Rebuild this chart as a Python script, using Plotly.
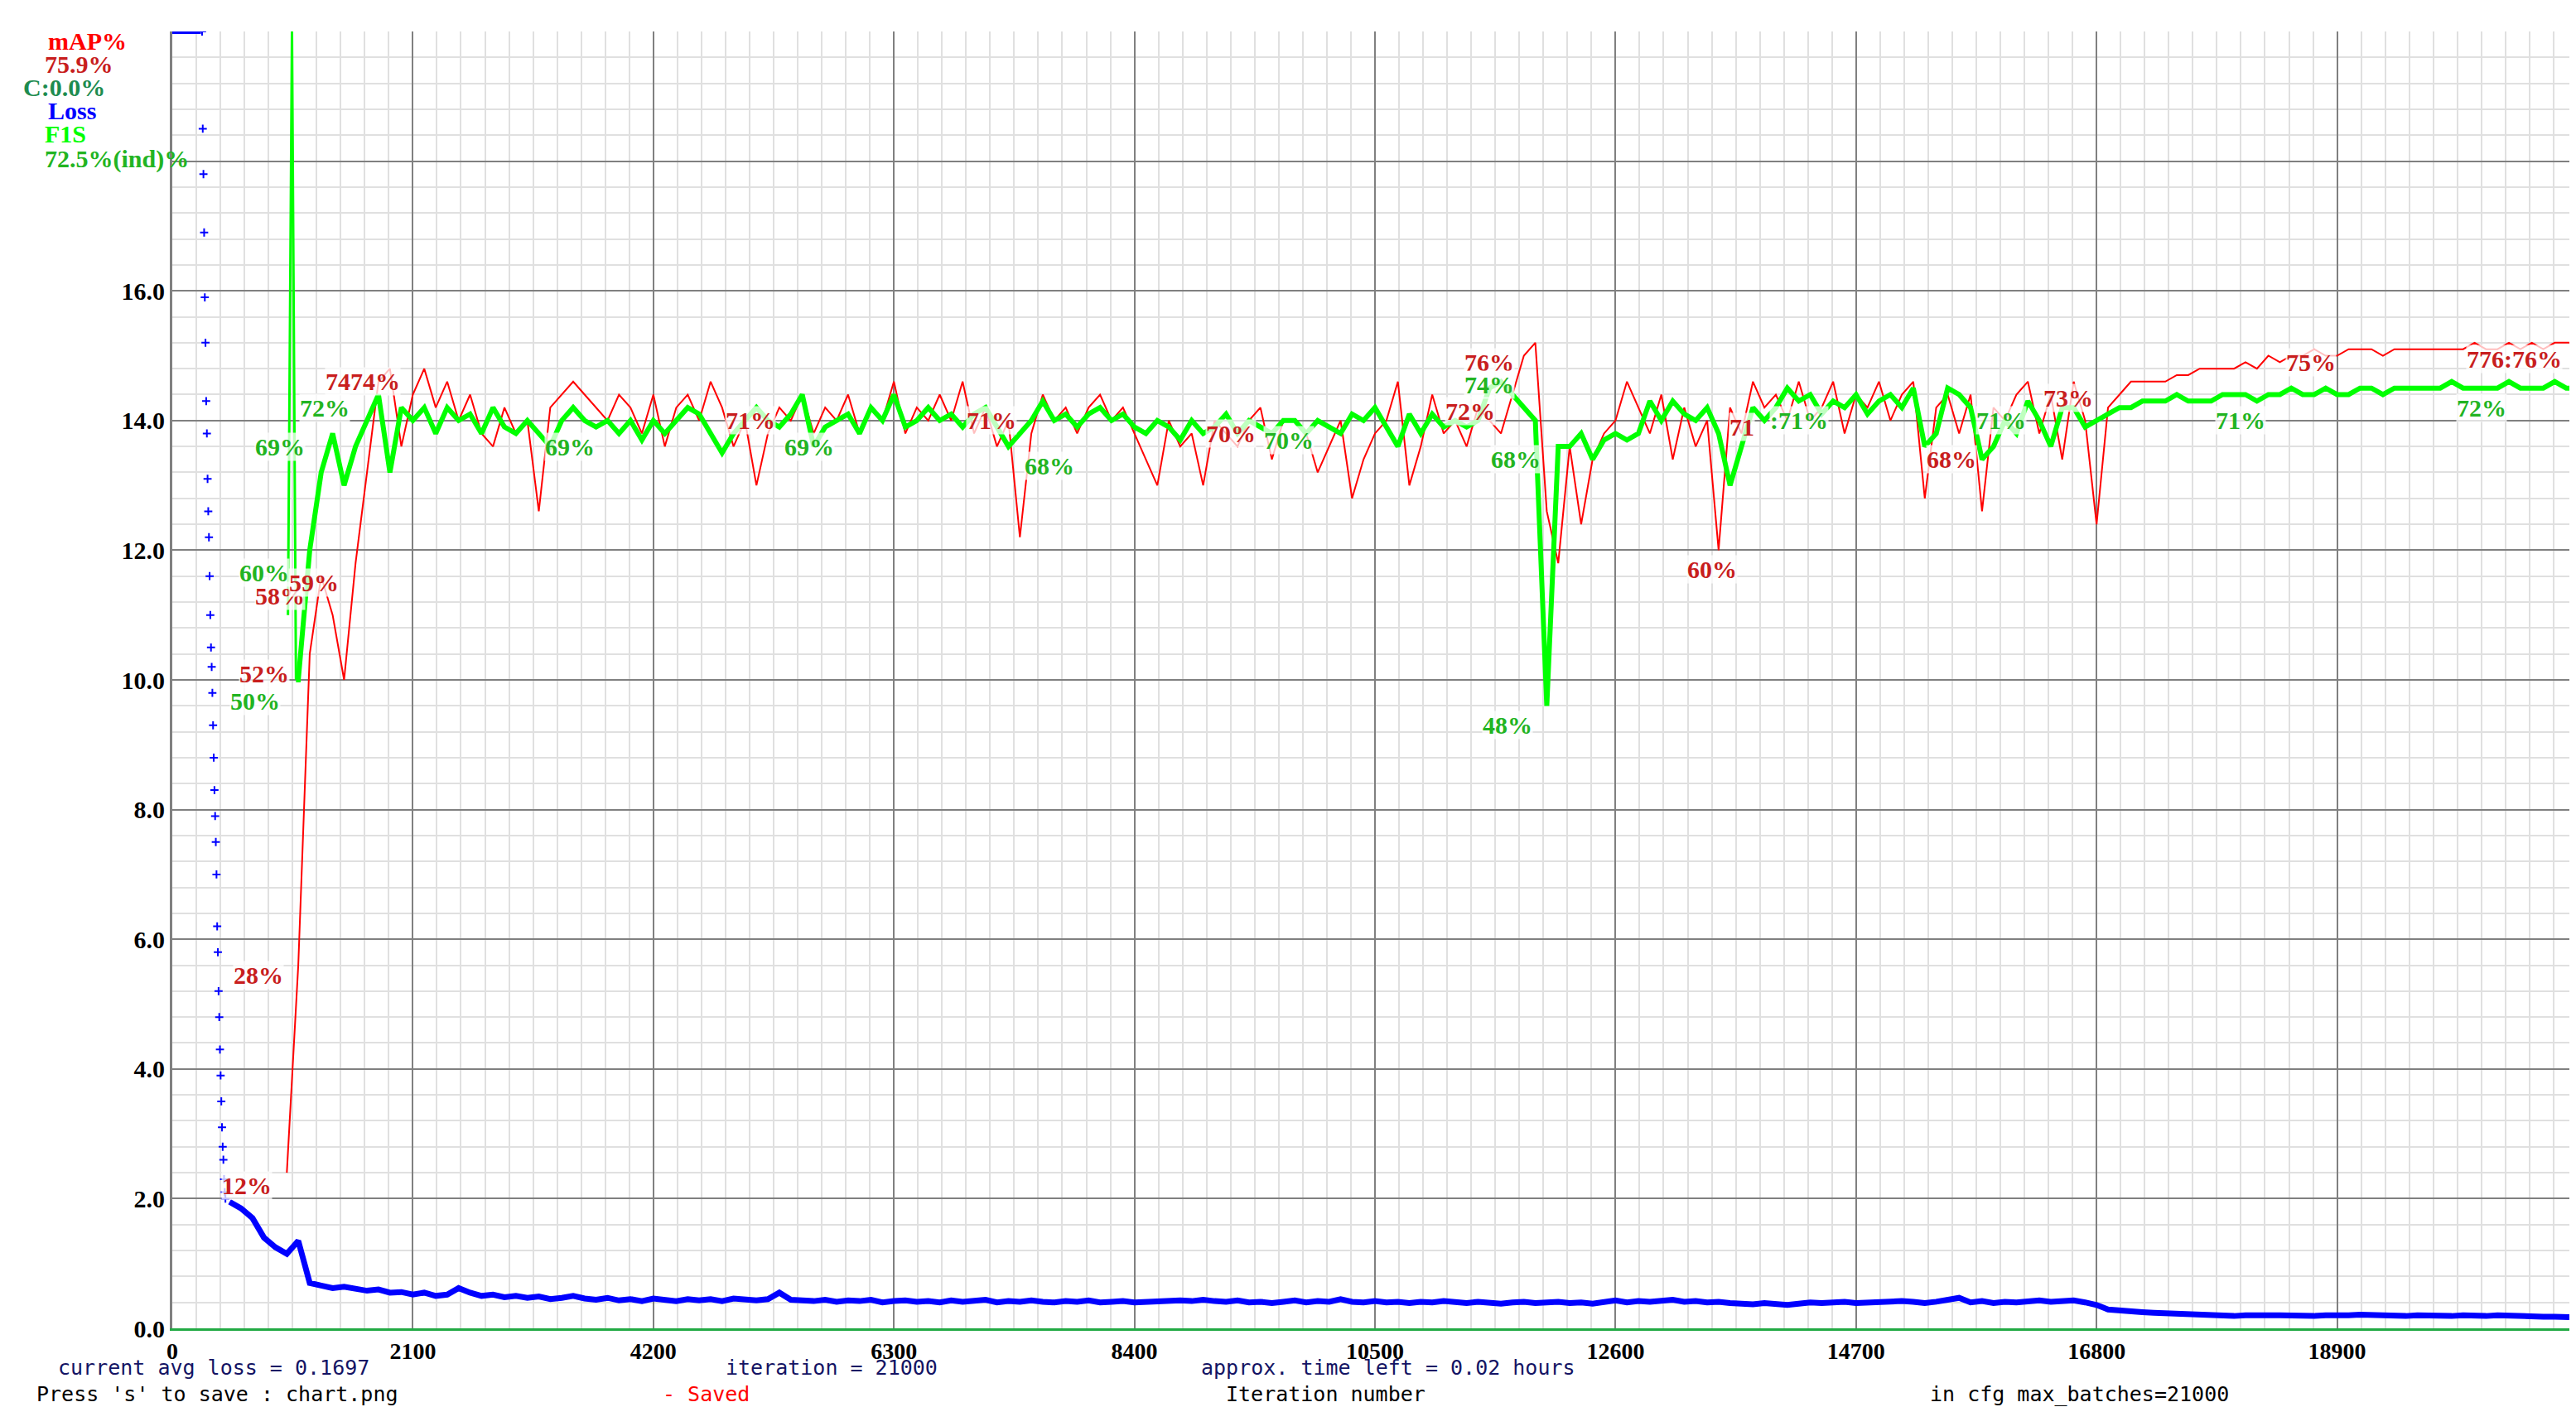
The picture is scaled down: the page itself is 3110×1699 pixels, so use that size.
import plotly.graph_objects as go

# ---------------- data ----------------
x_ticks = [0, 2100, 4200, 6300, 8400, 10500, 12600, 14700, 16800, 18900, 21000]
x_tick_text = ["0", "2100", "4200", "6300", "8400", "10500", "12600", "14700", "16800", "18900", "21000"]
y_ticks = [0, 2, 4, 6, 8, 10, 12, 14, 16]
y_tick_text = ["0.0", "2.0", "4.0", "6.0", "8.0", "10.0", "12.0", "14.0", "16.0"]

# loss: clipped top segment, early fast drop (dots), then main curve
loss_top_iters = [0, 100, 200, 250]
loss_top_vals = [20, 20, 20, 20]
loss_early_iters = list(range(260, 470, 6))
loss_early_vals = [20, 18.5, 17.8, 16.9, 15.9, 15.2, 14.3, 13.8, 13.1, 12.6, 12.2, 11.6, 11.0,
                   10.5, 10.2, 9.8, 9.3, 8.8, 8.3, 7.9, 7.5, 7.0, 6.2, 5.8, 5.2, 4.8, 4.3, 3.9,
                   3.5, 3.1, 2.8, 2.6, 2.3, 2.1, 2.0]
loss_iters = list(range(500, 21100, 100))
loss_vals = [
    1.95,
    1.85, 1.7, 1.4, 1.25, 1.15, 1.35, 0.7, 0.66, 0.62, 0.64,
    0.6, 0.58, 0.6, 0.55, 0.56, 0.52, 0.55, 0.5, 0.52, 0.62,
    0.55, 0.5, 0.52, 0.48, 0.5, 0.47, 0.49, 0.45, 0.47, 0.5,
    0.46, 0.44, 0.47, 0.43, 0.45, 0.42, 0.46, 0.44, 0.42, 0.45,
    0.43, 0.45, 0.42, 0.46, 0.44, 0.43, 0.45, 0.55, 0.44, 0.43,
    0.42, 0.44, 0.41, 0.43, 0.42, 0.44, 0.4, 0.42, 0.43, 0.41,
    0.42, 0.4, 0.43, 0.41, 0.42, 0.44, 0.4, 0.42, 0.41, 0.43,
    0.41, 0.4, 0.42, 0.41, 0.43, 0.4, 0.41, 0.42, 0.4, 0.41,
    0.42, 0.44, 0.43, 0.42, 0.44, 0.42, 0.41, 0.43, 0.4, 0.41,
    0.39, 0.41, 0.43, 0.4, 0.42, 0.41, 0.45, 0.41, 0.4, 0.42,
    0.4, 0.41, 0.39, 0.41, 0.4, 0.42, 0.4, 0.39, 0.41, 0.4,
    0.38, 0.4, 0.41, 0.39, 0.4, 0.41, 0.39, 0.4, 0.38, 0.41,
    0.43, 0.4, 0.42, 0.41, 0.43, 0.44, 0.41, 0.42, 0.4, 0.41,
    0.39, 0.38, 0.37, 0.39, 0.38, 0.36, 0.38, 0.4, 0.39, 0.4,
    0.41, 0.39, 0.4, 0.41, 0.4, 0.42, 0.41, 0.39, 0.41, 0.43,
    0.47, 0.4, 0.42, 0.39, 0.41, 0.4, 0.42, 0.43, 0.41, 0.42,
    0.43, 0.4, 0.36, 0.29, 0.27, 0.26, 0.25, 0.24, 0.23, 0.22,
    0.21, 0.2, 0.21, 0.2, 0.19, 0.2, 0.19, 0.2, 0.2, 0.19,
    0.2, 0.19, 0.2, 0.19, 0.2, 0.21, 0.2, 0.19, 0.2, 0.19,
    0.2, 0.19, 0.2, 0.19, 0.2, 0.19, 0.19, 0.2, 0.19, 0.18,
    0.19, 0.18, 0.18, 0.17, 0.17,
]

# mAP (%) every 100 iterations from 1000
map_iters = list(range(1000, 21100, 100))
map_pct = [
    12, 28, 52, 58, 55, 50, 59, 66, 73, 74,
    68, 72, 74, 71, 73, 70, 72, 69, 68, 71,
    69, 70, 63, 71, 72, 73, 72, 71, 70, 72,
    71, 69, 72, 68, 71, 72, 70, 73, 71, 68,
    70, 65, 69, 71, 70, 72, 69, 71, 70, 72,
    69, 71, 70, 73, 69, 71, 70, 72, 70, 73,
    69, 71, 68, 70, 61, 69, 72, 70, 71, 69,
    71, 72, 70, 71, 69, 67, 65, 70, 68, 69,
    65, 70, 69, 68, 70, 71, 67, 70, 70, 69,
    66, 68, 70, 64, 67, 69, 70, 73, 65, 68,
    72, 69, 70, 68, 71, 70, 69, 72, 75, 76,
    63, 59, 68, 62, 67, 69, 70, 73, 71, 69,
    72, 67, 71, 68, 70, 60, 71, 69, 73, 71,
    72, 70, 73, 70, 71, 73, 69, 72, 71, 73,
    70, 72, 73, 64, 71, 72, 69, 72, 63, 71,
    70, 72, 73, 69, 72, 67, 73, 70, 62, 71,
    72, 73, 73, 73, 73, 73.5, 73.5, 74, 74, 74,
    74, 74.5, 74, 75, 74.5, 75, 75, 75.5, 75, 75,
    75.5, 75.5, 75.5, 75, 75.5, 75.5, 75.5, 75.5, 75.5, 75.5,
    75.5, 76, 75.5, 75.5, 76, 75.5, 76, 75.5, 76, 76,
    76,
]

# F1 (%): first evaluation spike (thin) then the main curve
f1_spike_iters = [1010, 1045, 1080]
f1_spike_pct = [55, 100, 50]
f1_iters = [1080] + list(range(1100, 21100, 100))
f1_pct = [
    50,
    50, 60, 66, 69, 65, 68, 70, 72, 66,
    71, 70, 71, 69, 71, 70, 70.5, 69, 71, 69.5,
    69, 70, 69, 68, 70, 71, 70, 69.5, 70, 69,
    70, 68.5, 70, 69, 70, 71, 70.5, 69, 67.5, 69,
    70, 71, 70, 69.5, 70.5, 72, 68, 69.5, 70, 70.5,
    69, 71, 70, 72, 69.5, 70, 71, 70, 70.5, 69.5,
    70.5, 71, 69.5, 68, 69, 70, 71.5, 70, 70.5, 69.5,
    70.5, 71, 70, 70.5, 69.5, 69, 70, 69.5, 68.5, 70,
    69, 69.5, 70.5, 69, 70, 69.5, 69, 70, 70, 69,
    70, 69.5, 69, 70.5, 70, 71, 69.5, 68, 70.5, 69,
    70.5, 69.5, 70, 69.5, 70, 72.5, 73, 72, 71, 70,
    48, 68, 68, 69, 67, 68.5, 69, 68.5, 69, 71.5,
    70, 71.5, 70.5, 70, 71, 69, 65, 68, 71, 70,
    71, 72.5, 71.5, 72, 70.5, 71.5, 71, 72, 70.5, 71.5,
    72, 71, 72.5, 68, 69, 72.5, 72, 71, 67, 68,
    70, 69, 71.5, 70, 68, 71, 71, 69.5, 70, 70.5,
    71, 71, 71.5, 71.5, 71.5, 72, 71.5, 71.5, 71.5, 72,
    72, 72, 71.5, 72, 72, 72.5, 72, 72, 72.5, 72,
    72, 72.5, 72.5, 72, 72.5, 72.5, 72.5, 72.5, 72.5, 73,
    72.5, 72.5, 72.5, 72.5, 73, 72.5, 72.5, 72.5, 73, 72.5,
    72.5,
]

# value labels drawn on the chart (iteration, chart value, text)
map_label_iters = [650, 750, 800, 940, 1240, 1660, 5050, 7150, 9240, 11330, 11500, 13700, 13440, 15530, 16550, 18670, 20450]
map_label_vals = [2.2, 5.45, 10.1, 11.3, 11.5, 14.6, 14.0, 14.0, 13.8, 14.15, 14.9, 13.9, 11.7, 13.4, 14.35, 14.9, 14.95]
map_label_text = ["12%", "28%", "52%", "58%", "59%", "7474%", "71%", "71%", "70%", "72%", "76%", "71", "60%", "68%", "73%", "75%", "776:76%"]
f1_label_iters = [1330, 940, 800, 720, 3470, 5560, 7660, 9750, 11500, 11730, 11660, 14200, 15970, 18060, 20160]
f1_label_vals = [14.2, 13.6, 11.65, 9.67, 13.6, 13.6, 13.3, 13.7, 14.55, 13.4, 9.3, 14.0, 14.0, 14.0, 14.2]
f1_label_text = ["72%", "69%", "60%", "50%", "69%", "69%", "68%", "70%", "74%", "68%", "48%", ":71%", "71%", "71%", "72%"]

assert len(loss_iters) == len(loss_vals)
assert len(loss_early_iters) == len(loss_early_vals)
assert len(map_iters) == len(map_pct)
assert len(f1_iters) == len(f1_pct)

SCALE = 20 / 100.0  # percent -> chart units
W, H = 3110, 1699
ML, MR, MT, MB = 200, 6, 30, 103
FONT = "Liberation Serif"


def px(xp):
    return (xp - ML) / (W - ML - MR)


def py(yp):
    return (H - MB - yp) / (H - MT - MB)


fig = go.Figure()
fig.add_trace(go.Scatter(x=map_iters, y=[v * SCALE for v in map_pct], mode="lines",
                         line=dict(color="#ff0000", width=2), hoverinfo="skip"))
fig.add_trace(go.Scatter(x=f1_spike_iters, y=[v * SCALE for v in f1_spike_pct], mode="lines",
                         line=dict(color="#00ff00", width=3), hoverinfo="skip"))
fig.add_trace(go.Scatter(x=f1_iters, y=[v * SCALE for v in f1_pct], mode="lines",
                         line=dict(color="#00ff00", width=6), hoverinfo="skip"))
fig.add_trace(go.Scatter(x=loss_top_iters, y=loss_top_vals, mode="lines",
                         line=dict(color="#0000ff", width=6), hoverinfo="skip"))
fig.add_trace(go.Scatter(x=loss_early_iters, y=loss_early_vals, mode="markers",
                         marker=dict(color="#0000ff", size=7, symbol="cross-thin",
                                     line=dict(color="#0000ff", width=2)), hoverinfo="skip"))
fig.add_trace(go.Scatter(x=loss_iters, y=loss_vals, mode="lines",
                         line=dict(color="#0000ff", width=7), hoverinfo="skip"))

ann = []
for xi, yv, t in zip(map_label_iters, map_label_vals, map_label_text):
    ann.append(dict(x=xi, y=yv, text=t, showarrow=False, xref="x", yref="y",
                    font=dict(family=FONT, size=30, color="#c81e1e", weight="bold"),
                    bgcolor="rgba(255,255,255,0.75)", borderpad=0))
for xi, yv, t in zip(f1_label_iters, f1_label_vals, f1_label_text):
    ann.append(dict(x=xi, y=yv, text=t, showarrow=False, xref="x", yref="y",
                    font=dict(family=FONT, size=30, color="#22b422", weight="bold"),
                    bgcolor="rgba(255,255,255,0.75)", borderpad=0))

legend_rows = [("mAP%", "#ff0000", 42, 48), ("75.9%", "#c81e1e", 70, 44), ("C:0.0%", "#1e8c50", 98, 18),
               ("Loss", "#0000ff", 126, 48), ("F1S", "#00ff00", 154, 44), ("72.5%(ind)%", "#22b422", 184, 44)]
for t, c, ypx, xpx in legend_rows:
    ann.append(dict(x=px(xpx), y=py(ypx), xref="paper", yref="paper", xanchor="left", yanchor="middle",
                    text=t, showarrow=False, font=dict(family=FONT, size=30, color=c, weight="bold")))

MONO = "DejaVu Sans Mono"
bottom = [("current avg loss = 0.1697", "#141464", 60, 1643),
          ("iteration = 21000", "#141464", 866, 1643),
          ("approx. time left = 0.02 hours", "#141464", 1440, 1643),
          ("Press 's' to save : chart.png", "#000000", 34, 1676),
          ("- Saved", "#ff0000", 790, 1676),
          ("Iteration number", "#000000", 1470, 1676),
          ("in cfg max_batches=21000", "#000000", 2320, 1676)]
for t, c, xpx, ypx in bottom:
    ann.append(dict(x=px(xpx), y=py(ypx), xref="paper", yref="paper", xanchor="left", yanchor="middle",
                    text=t, showarrow=False, font=dict(family=MONO, size=25, color=c)))

fig.update_layout(
    width=W, height=H, autosize=False,
    margin=dict(l=ML, r=MR, t=MT, b=MB),
    plot_bgcolor="white", paper_bgcolor="white", showlegend=False,
    annotations=ann,
)
fig.update_xaxes(range=[0, 21000], tickvals=x_ticks, ticktext=x_tick_text,
                 showgrid=True, gridcolor="#808080", gridwidth=2,
                 minor=dict(dtick=210, showgrid=True, gridcolor="#e0e0e0", gridwidth=2),
                 showline=True, linecolor="#22aa44", linewidth=3, zeroline=False,
                 tickfont=dict(family=FONT, size=28, color="black", weight="bold"), ticks="")
fig.update_yaxes(range=[0, 20], tickvals=y_ticks + [18], ticktext=y_tick_text + [""],
                 showgrid=True, gridcolor="#808080", gridwidth=2,
                 minor=dict(dtick=0.4, showgrid=True, gridcolor="#e0e0e0", gridwidth=2),
                 showline=True, linecolor="#808080", linewidth=3, zeroline=False,
                 tickfont=dict(family=FONT, size=30, color="black", weight="bold"), ticks="")

fig.write_html("out.html")
